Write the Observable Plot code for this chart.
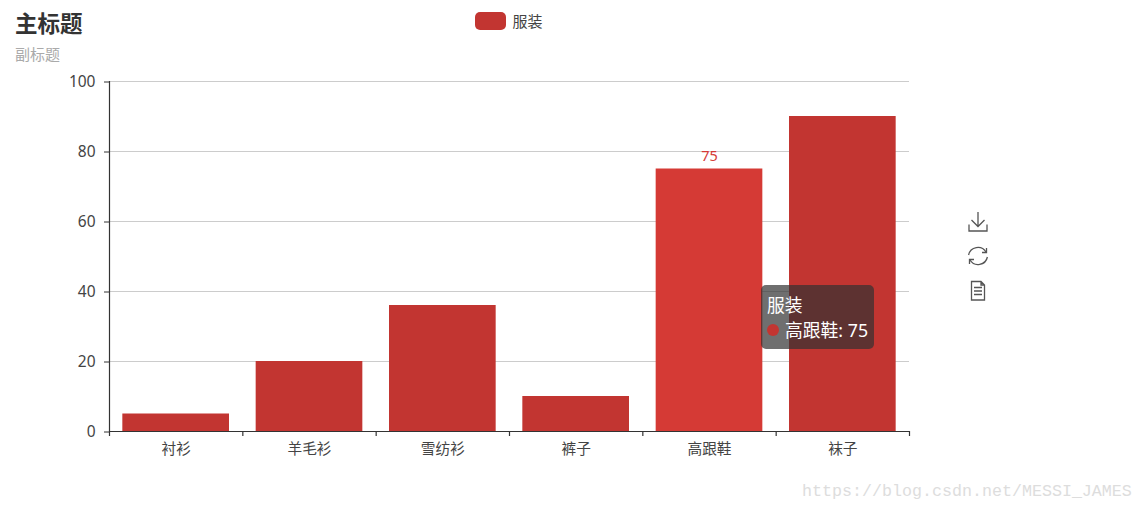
<!DOCTYPE html>
<html>
<head>
<meta charset="utf-8">
<script src="https://cdn.jsdelivr.net/npm/d3@7"></script>
<script src="https://cdn.jsdelivr.net/npm/@observablehq/plot@0.6"></script>
<style>
  html, body { margin: 0; padding: 0; background: #fff; overflow: hidden; }
  body { width: 1143px; height: 512px; position: relative; font-family: "Noto Sans", "Noto Sans CJK SC", sans-serif; }
  #chart svg { display: block; }
  .abs { position: absolute; white-space: nowrap; line-height: 1; }
  #title { left: 15px; top: 13px; font-size: 22.5px; font-weight: 700; color: #333; }
  #subtitle { left: 15px; top: 47px; font-size: 15px; color: #aaa; }
  #swatch { left: 475px; top: 12px; width: 31px; height: 18px; border-radius: 5px; background: #c23531; }
  #legend { left: 512.5px; top: 14px; font-size: 15px; color: #444; }
  #tip { left: 761px; top: 285px; width: 113px; height: 64px; border-radius: 5px; background: rgba(50,50,50,.7); color: #fff; font-size: 17.8px; }
  #tip .h { position: absolute; left: 6px; top: 12px; line-height: 1; }
  #tip .d { position: absolute; left: 6px; top: 39px; width: 12px; height: 12px; border-radius: 50%; background: #c23531; }
  #tip .r { position: absolute; left: 24px; top: 37px; line-height: 1; }
  #icons { left: 960px; top: 205px; }
  #mark { left: 802px; top: 484px; font-family: "Liberation Mono", monospace; font-size: 16.67px; color: #ddd; }
</style>
</head>
<body>
<div id="chart"></div>
<div class="abs" id="title">主标题</div>
<div class="abs" id="subtitle">副标题</div>
<div class="abs" id="swatch"></div>
<div class="abs" id="legend">服装</div>
<svg class="abs" id="icons" width="36" height="100" viewBox="0 0 36 100" fill="none" stroke="#555" stroke-width="1.3">
  <path d="M18 7V21M11.5 15L18 21.5L24.5 15M9 19.5V26H27V19.5"/>
  <path d="M8.6 50A9.5 9.5 0 0 1 26 47M27.4 52A9.5 9.5 0 0 1 10 55"/>
  <path d="M26.5 43V47.5H22M9.5 59V54.5H14"/>
  <path d="M11.5 76.5H21L24.5 80V95H11.5ZM21 76.5V80H24.5M14 82.5H22M14 86H22M14 89.5H22"/>
</svg>
<div class="abs" id="tip"><span class="h">服装</span><span class="d"></span><span class="r">高跟鞋: 75</span></div>
<div class="abs" id="mark">https://blog.csdn.net/MESSI_JAMES</div>
<script>
const categories = ["衬衫", "羊毛衫", "雪纺衫", "裤子", "高跟鞋", "袜子"];
const values = [5, 20, 36, 10, 75, 90];
const yTicks = [0, 20, 40, 60, 80, 100];
const highlighted = "高跟鞋";

const rows = categories.map((name, i) => ({name, i, value: values[i]}));
const boundaries = d3.range(categories.length + 1);

const plot = Plot.plot({
  width: 1143,
  height: 512,
  marginLeft: 109,
  marginRight: 234,
  marginTop: 81,
  marginBottom: 81,
  style: {fontFamily: '"Noto Sans", "Noto Sans CJK SC", sans-serif', background: "transparent"},
  x: {domain: [0, categories.length]},
  y: {domain: [0, 100]},
  marks: [
    Plot.ruleY(yTicks.slice(1), {stroke: "#ccc", strokeWidth: 1.2}),
    Plot.rectY(rows, {
      x1: d => d.i + 0.1,
      x2: d => d.i + 0.9,
      y1: 0,
      y2: "value",
      fill: d => d.name === highlighted ? "#d53a35" : "#c23531"
    }),
    Plot.text(rows.filter(d => d.name === highlighted), {
      x: d => d.i + 0.5,
      y: "value",
      text: d => String(d.value),
      dy: -13,
      fill: "#d53a35",
      fontSize: 14.5
    }),
    Plot.ruleX([0], {stroke: "#333", strokeWidth: 1.2}),
    Plot.ruleY([0], {stroke: "#333", strokeWidth: 1.2}),
    Plot.axisY({ticks: yTicks, tickSize: 5, tickPadding: 9, stroke: "#333", color: "#444", fontSize: 15.5, dy: 0.5, label: null}),
    Plot.axisX({ticks: boundaries, tickSize: 5, stroke: "#333", strokeWidth: 1.2, tickFormat: () => "", label: null}),
    Plot.text(rows, {
      x: d => d.i + 0.5,
      y: 0,
      text: "name",
      dy: 18,
      fill: "#444",
      fontSize: 14.7
    })
  ]
});
document.getElementById("chart").append(plot);
</script>
</body>
</html>
